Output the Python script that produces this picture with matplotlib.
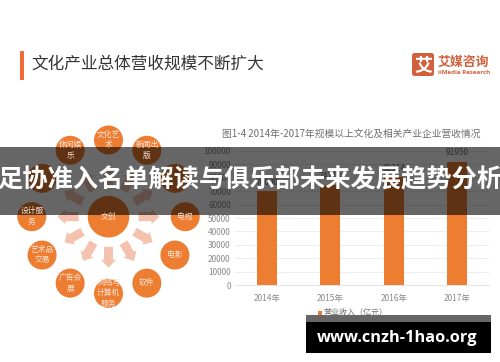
import numpy as np
import matplotlib
matplotlib.use("Agg")
import matplotlib.pyplot as plt
from matplotlib.patches import Circle, FancyArrow, FancyBboxPatch, Rectangle

plt.rcParams['font.family'] = ['Noto Sans CJK SC', 'DejaVu Sans']

years = ["2014年", "2015年", "2016年", "2017年"]
revenue = [70000, 74710, 80314, 91950]
y_ticks = [0, 10000, 20000, 30000, 40000, 50000, 60000, 70000, 80000, 90000, 100000]

# clockwise from the top, two are hidden under the banner
ring_labels = ["文化艺\n术", "新闻出\n版", "", "电视", "电影", "软件",
               "网络与\n计算机\n服务", "广告会\n展", "艺术品\n交易", "设计服\n务", "", "休闲娱\n乐"]
center_label = "文创"

title = "文化产业总体营收规模不断扩大"
chart_title = "图1-4 2014年-2017年规模以上文化及相关产业企业营收情况"
legend_label = "营业收入（亿元）"
banner_text = "足协准入名单解读与俱乐部未来发展趋势分析"
url_text = "www.cnzh-1hao.org"

ORANGE = "#ed7d31"
W, H = 500, 362

fig = plt.figure(figsize=(W / 100, H / 100), dpi=100, facecolor="white")

# bar chart
ax = fig.add_axes([235 / W, (H - 285.3) / H, 254 / W, 134.6 / H])
ax.bar(range(4), revenue, width=0.315, color=ORANGE, zorder=3)
ax.set_xlim(-0.5, 3.5)
ax.set_ylim(0, 100000)
ax.set_yticks(y_ticks)
ax.set_xticks(range(4))
ax.set_xticklabels(years)
ax.grid(axis="y", color="#eeeeee", lw=0.8, zorder=0)
ax.tick_params(length=0, labelsize=6, labelcolor="#8a8a8a")
ax.tick_params(axis="x", pad=6)
ax.tick_params(axis="y", pad=3)
for s in ["top", "left", "right"]:
    ax.spines[s].set_visible(False)
ax.spines["bottom"].set_color("#e4e4e4")
for i, v in enumerate(revenue):
    ax.annotate(str(v), (i, v), xytext=(0, 3), textcoords="offset points",
                ha="center", va="bottom", fontsize=6, color="#707070")

# everything else in pixel coordinates
ov = fig.add_axes([0, 0, 1, 1], zorder=5)
ov.set_xlim(0, W)
ov.set_ylim(H, 0)
ov.axis("off")
ov.patch.set_alpha(0)

ov.add_patch(Rectangle((20, 51), 4, 29, color="#f26a35", lw=0))
ov.text(31, 64.5, title, fontsize=12, color="#333333", va="center", ha="left")

# logo
ov.add_patch(FancyBboxPatch((412, 53), 22, 23, boxstyle="round,pad=0,rounding_size=2.5",
                            fc="#d2603c", ec="none"))
ov.text(423, 64.5, "艾", fontsize=13, color="white", weight="bold", ha="center", va="center")
ov.text(438, 61.5, "艾媒咨询", fontsize=9.3, color="#d2603c", weight="bold", ha="left", va="center")
ov.text(438, 72, "iiMedia Research", fontsize=4.4, color="#d2603c", weight="bold", ha="left", va="center",
        family="Open Sans")

ov.text(222, 134, chart_title, fontsize=7, color="#6e6e6e", ha="left", va="center")

# legend
ov.add_patch(Rectangle((318, 311), 3.5, 3.5, color=ORANGE, lw=0))
ov.text(324, 312.5, legend_label, fontsize=5.8, color="#707070", ha="left", va="center")

# radial diagram
cx, cy = 108.5, 216.7
for i, lab in enumerate(ring_labels):
    a = np.deg2rad(i * 30)
    dx, dy = np.sin(a), -np.cos(a)
    ov.add_patch(FancyArrow(cx + 30 * dx, cy + 30 * dy, 21 * dx, 21 * dy, width=9, head_width=15,
                            head_length=8, length_includes_head=True, fc="#f4c3b0", ec="none"))
    ov.add_patch(Circle((cx + 76.7 * dx, cy + 76.7 * dy), 14.5, fc=ORANGE, ec="none"))
    ov.text(cx + 76.7 * dx, cy + 76.7 * dy, lab, fontsize=5.6, color="#fbe3d4", ha="center", va="center",
            linespacing=1.45)
ov.add_patch(Circle((cx, cy), 20.8, fc=ORANGE, ec="none"))
ov.text(cx, cy, center_label, fontsize=5.6, color="#fbe3d4", ha="center", va="center")

# banner and watermark on top
ov.add_patch(Rectangle((0, 147), W, 68, fc="black", alpha=0.6, lw=0))
ov.text(250, 180, banner_text, fontsize=18.2, color="white", weight="bold", ha="center", va="center")
ov.add_patch(Rectangle((306, 315), 185, 7, fc="black", alpha=0.6, lw=0))
ov.add_patch(Rectangle((306, 322), 185, 31, fc="black", lw=0))
ov.text(397, 337.5, url_text, fontsize=11.8, color="white", weight="bold", ha="center", va="center",
        family="Open Sans")

fig.savefig("out.png", dpi=100)
